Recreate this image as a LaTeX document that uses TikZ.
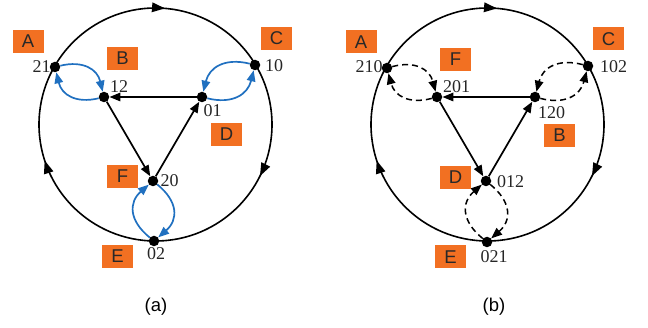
\documentclass[tikz,border=0pt]{standalone}
\usepackage{fontspec}
\setmainfont{Liberation Serif}
\newfontfamily\capfont{Liberation Sans}
\usetikzlibrary{arrows.meta,decorations.markings}
\definecolor{boxor}{RGB}{242,112,34}
\definecolor{curveblue}{RGB}{32,112,192}
\definecolor{lettc}{RGB}{40,40,40}
\begin{document}
\begin{tikzpicture}[x=1pt,y=1pt,
  dot/.style={circle,fill=black,inner sep=0pt,minimum size=10.5pt},
  num/.style={inner sep=0pt,font=\fontsize{18}{18}\selectfont,text=black!85},
  tag/.style={fill=boxor,minimum width=31pt,minimum height=23pt,inner sep=0pt,
    font=\capfont\fontsize{18.5}{18.5}\selectfont,text=lettc},
  capt/.style={inner sep=0pt,font=\capfont\fontsize{18.5}{18.5}\selectfont},
  tip/.style={-{Triangle[length=11pt,width=8.5pt]}},
  tri/.style={tip,line width=1.7pt},
  bc/.style={tip,line width=1.7pt,curveblue},
  dc/.style={tip,line width=1.5pt,black,dash pattern=on 6pt off 4pt},
  circ/.style={line width=1.6pt,postaction={decorate},
    decoration={markings,
      mark=at position 0.013 with {\arrow{Triangle[length=13pt,width=9.5pt]}},
      mark=at position 0.323 with {\arrow{Triangle[length=13pt,width=9.5pt]}},
      mark=at position 0.70 with {\arrow{Triangle[length=13pt,width=9.5pt]}}}}
]
\useasboundingbox (0,0) rectangle (648,-328);

% ---------------- (a) ----------------
\draw[circ] (155.5,-8) arc[start angle=90,end angle=-270,radius=116.5];

\node[dot] (a21) at (55,-67) {};
\node[dot] (a12) at (104,-97) {};
\node[dot] (a10) at (255,-65) {};
\node[dot] (a01) at (202,-97) {};
\node[dot] (a20) at (153,-181) {};
\node[dot] (a02) at (154,-241) {};

\node[num] at (41.5,-66.5) {21};
\node[num] at (119,-87) {12};
\node[num] at (274,-66) {10};
\node[num] at (212.5,-111) {01};
\node[num] at (169.5,-181) {20};
\node[num] at (156,-254) {02};

\draw[tri] (a01) -- (a12);
\draw[tri] (a12) -- (a20);
\draw[tri] (a20) -- (a01);

\draw[bc] (a21) to[bend left=45,looseness=1.2] (a12);
\draw[bc] (a12) to[bend left=45,looseness=1.2] (a21);
\draw[bc] (a10) to[bend right=45,looseness=1.2] (a01);
\draw[bc] (a01) to[bend right=45,looseness=1.2] (a10);
\draw[bc] (a02) to[bend left=50,looseness=1.3] (a20);
\draw[bc] (a20) to[bend left=50,looseness=1.3] (a02);

\node[tag] (aA) at (28,-41.5) {A};
\node[tag] (aB) at (122.5,-58.5) {B};
\node[tag] (aC) at (276.5,-38.5) {C};
\node[tag] (aD) at (226.5,-134.5) {D};
\node[tag] (aF) at (122.5,-176.5) {F};
\node[tag] (aE) at (117.5,-256.5) {E};

\node[capt] (capa) at (156,-307) {(a)};

% ---------------- (b) ----------------
\draw[circ] (487.5,-8) arc[start angle=90,end angle=-270,radius=116.5];

\node[dot] (b210) at (387,-68) {};
\node[dot] (b201) at (437,-97) {};
\node[dot] (b102) at (588,-66) {};
\node[dot] (b120) at (535,-97) {};
\node[dot] (b012) at (486,-181) {};
\node[dot] (b021) at (487,-242) {};

\node[num] at (369,-66.5) {210};
\node[num] at (456.5,-86.5) {201};
\node[num] at (613.5,-66.5) {102};
\node[num] at (551.5,-112.5) {120};
\node[num] at (510.5,-181.5) {012};
\node[num] at (494,-256.5) {021};

\draw[tri] (b120) -- (b201);
\draw[tri] (b201) -- (b012);
\draw[tri] (b012) -- (b120);

\draw[dc] (b210) to[bend left=45,looseness=1.2] (b201);
\draw[dc] (b201) to[bend left=45,looseness=1.2] (b210);
\draw[dc] (b102) to[bend right=45,looseness=1.2] (b120);
\draw[dc] (b120) to[bend right=45,looseness=1.2] (b102);
\draw[dc] (b021) to[bend left=50,looseness=1.3] (b012);
\draw[dc] (b012) to[bend left=50,looseness=1.3] (b021);

\node[tag] (bA) at (361,-42) {A};
\node[tag] (bF) at (455.5,-59.5) {F};
\node[tag] (bC) at (608.5,-39) {C};
\node[tag] (bB) at (559.5,-135.5) {B};
\node[tag] (bD) at (455.5,-177.5) {D};
\node[tag] (bE) at (450.5,-257) {E};

\node[capt] (capb) at (494,-307) {(b)};
\end{tikzpicture}
\end{document}
